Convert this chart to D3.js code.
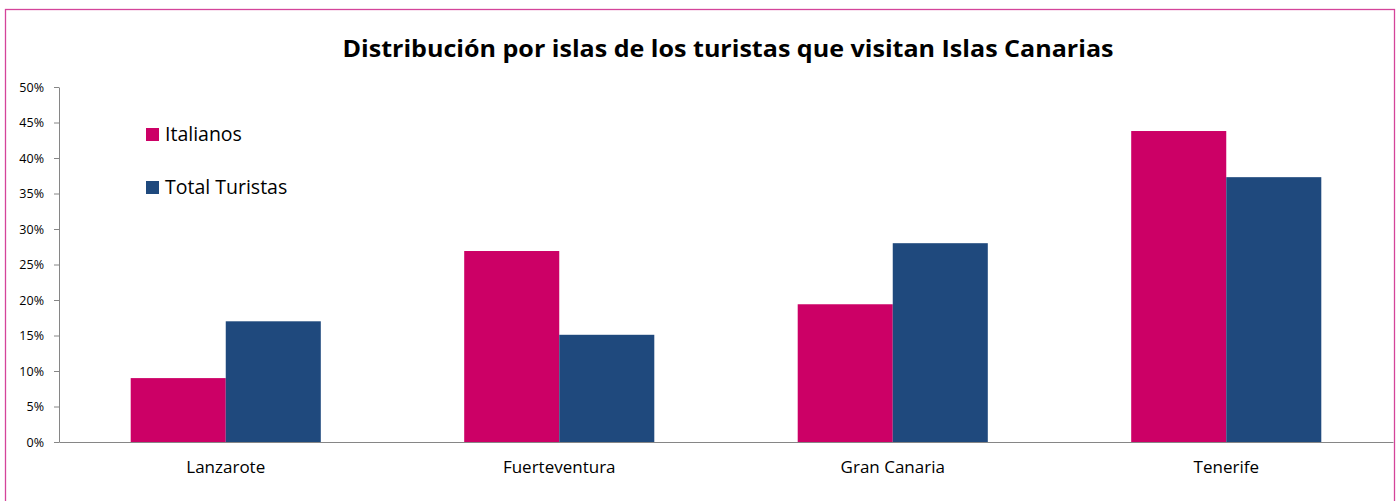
<!DOCTYPE html>
<html><head><meta charset="utf-8">
<script src="https://cdn.jsdelivr.net/npm/d3@7"></script>
<style>
html,body{margin:0;padding:0;background:#fff;}
svg{display:block;font-family:Lato,"Open Sans",sans-serif;}
</style></head>
<body><svg id="c" width="1399" height="501"></svg>
<script>
const categories = ["Lanzarote","Fuerteventura","Gran Canaria","Tenerife"];
const seriesNames = ["Italianos","Total Turistas"];
const italianos = [0.090, 0.269, 0.194, 0.438];
const totalTuristas = [0.170, 0.151, 0.280, 0.373];
const yTicks = [0,0.05,0.10,0.15,0.20,0.25,0.30,0.35,0.40,0.45,0.50];
const colors = ["#CC0066","#1F497D"];
const title = "Distribución por islas de los turistas que visitan Islas Canarias";

const svg = d3.select("#c");
const m = {left:59, right:1393, top:87, bottom:442};

// frame
svg.append("rect").attr("x",5.5).attr("y",9.5).attr("width",1389).attr("height",520)
  .attr("fill","none").attr("stroke","#D4449A").attr("stroke-width",1.3);

svg.append("text").attr("x",728).attr("y",57).attr("text-anchor","middle")
  .attr("font-size",24).attr("font-weight","bold").attr("fill","#000")
  .attr("font-family","'Open Sans',Lato,sans-serif")
  .attr("textLength",771).attr("lengthAdjust","spacingAndGlyphs")
  .text(title);

const x = d3.scaleBand().domain(categories).range([m.left,m.right]).paddingInner(0).paddingOuter(0);
const bw = x.bandwidth();
const xs = d3.scaleBand().domain(seriesNames).range([bw*0.215, bw*0.785]).padding(0);
const y = d3.scaleLinear().domain([0,0.5]).range([m.bottom,m.top]);

const data = categories.map((c,i)=>({cat:c, vals:[italianos[i], totalTuristas[i]]}));
const g = svg.append("g");
data.forEach(d=>{
  d.vals.forEach((v,j)=>{
    g.append("rect")
      .attr("x", x(d.cat)+xs(seriesNames[j]))
      .attr("y", y(v))
      .attr("width", xs.bandwidth())
      .attr("height", y(0)-y(v))
      .attr("fill", colors[j]);
  });
});

// y axis
const yAxis = d3.axisLeft(y).tickValues(yTicks).tickFormat(d3.format(".0%")).tickSize(5).tickSizeOuter(0).tickPadding(10);
const ya = svg.append("g").attr("transform",`translate(${m.left},0)`).call(yAxis);
ya.select(".domain").attr("stroke","#868686");
ya.selectAll(".tick line").attr("stroke","#868686");
ya.selectAll(".tick text").attr("font-size",12.5).attr("fill","#000").attr("font-family","'Open Sans',Lato,sans-serif");

// x axis
const xAxis = d3.axisBottom(x).tickSize(0).tickPadding(19);
const xa = svg.append("g").attr("transform",`translate(0,${m.bottom})`).call(xAxis);
xa.select(".domain").attr("stroke","#868686");
xa.selectAll(".tick text").attr("font-size",17).attr("fill","#000").attr("font-family","'Open Sans',Lato,sans-serif");

// legend
const lg = svg.append("g");
seriesNames.forEach((s,i)=>{
  const ly = 128 + i*53;
  lg.append("rect").attr("x",146).attr("y",ly).attr("width",13).attr("height",13).attr("fill",colors[i]);
  lg.append("text").attr("x",165).attr("y",ly+13).attr("font-size",19.5).attr("fill","#000")
    .attr("font-family","'Open Sans',Lato,sans-serif").text(s);
});
</script></body></html>
